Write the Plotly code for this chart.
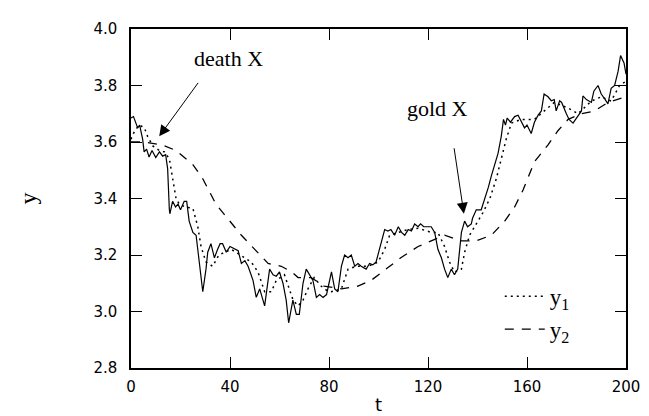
import plotly.graph_objects as go

# price (solid)
t_price = [0, 1, 2.7, 3.5, 4.7, 5.3, 6.3, 7.3, 8.5, 10, 11.5, 12.8, 14, 14.8, 15.5, 15.7, 16.8, 18, 19, 20,
           21.5, 22.5, 23.5, 25, 26.3, 29, 30.3, 31, 32.3, 33.7, 35, 36, 37, 38.5, 40, 42, 43.3, 44.6, 46, 47.3,
           48.6, 49.3, 50.6, 52, 54, 56, 57.4, 58.7, 60, 61.4, 62.7, 63.7, 65.4, 66.8, 68, 69.5, 70.8, 72, 73.5, 74.9,
           76.2, 77.6, 79, 80, 81, 82.3, 83.6, 85, 86.3, 87.7, 89, 90.4, 91.7, 93, 95, 96.4, 97.7, 99, 99.8, 101,
           102.5, 103.8, 105, 106.5, 108, 109.3, 110.6, 112, 113.3, 114.6, 116, 117, 118.3, 119.5, 121.3, 122.7, 124, 125.4, 126.7, 128,
           129.4, 130.7, 132, 133.5, 134.8, 136, 137.5, 138, 139.5, 141.5, 143, 144.4, 145.6, 147, 148.3, 149.6, 150.5, 151.3, 152, 153.3,
           155, 156.4, 157.7, 159, 160, 161.7, 163, 164.5, 165.8, 166.9, 168.5, 169.8, 171, 171.8, 173.2, 174, 175.9, 177, 178.6, 180.6,
           182, 182.6, 184, 186, 187, 188.7, 190, 191.6, 192.7, 194, 195.4, 196.8, 197.8, 199.2, 200]
y_price = [3.685, 3.69, 3.65, 3.66, 3.61, 3.565, 3.575, 3.547, 3.57, 3.545, 3.565, 3.55, 3.555, 3.506, 3.36, 3.346, 3.39, 3.37, 3.38, 3.36,
           3.39, 3.39, 3.32, 3.28, 3.27, 3.07, 3.15, 3.21, 3.24, 3.19, 3.22, 3.24, 3.24, 3.21, 3.23, 3.22, 3.215, 3.17, 3.18, 3.16,
           3.13, 3.11, 3.05, 3.08, 3.02, 3.15, 3.13, 3.125, 3.14, 3.10, 3.04, 2.96, 3.04, 2.99, 2.99, 3.10, 3.15, 3.13, 3.11, 3.05,
           3.06, 3.05, 3.06, 3.10, 3.14, 3.08, 3.07, 3.16, 3.20, 3.19, 3.20, 3.16, 3.17, 3.16, 3.15, 3.17, 3.165, 3.175, 3.20, 3.24,
           3.29, 3.285, 3.29, 3.27, 3.30, 3.28, 3.27, 3.29, 3.285, 3.31, 3.30, 3.31, 3.30, 3.30, 3.30, 3.28, 3.22, 3.19, 3.15, 3.12,
           3.15, 3.13, 3.15, 3.28, 3.32, 3.30, 3.31, 3.33, 3.36, 3.36, 3.40, 3.44, 3.48, 3.52, 3.56, 3.62, 3.68, 3.66, 3.685, 3.67,
           3.69, 3.695, 3.67, 3.65, 3.66, 3.63, 3.67, 3.695, 3.71, 3.77, 3.76, 3.746, 3.75, 3.71, 3.746, 3.74, 3.70, 3.68, 3.667, 3.69,
           3.71, 3.763, 3.75, 3.74, 3.78, 3.80, 3.77, 3.75, 3.735, 3.79, 3.80, 3.85, 3.906, 3.88, 3.84]

# y1 (short average, dotted)
t_y1 = [0, 1.5, 3.4, 5.4, 6.7, 8.8, 11.4, 13.5, 15.5, 16.8, 18.2, 19.5, 22, 25, 27, 28.3, 30.3, 33, 35.5, 40.5,
        46, 48.6, 51.3, 54, 56.7, 58.7, 62, 65.5, 67.5, 69.5, 71.5, 74, 76.8, 79, 81, 85, 87.7, 91, 95.8, 99.8,
        102.5, 104.5, 108, 112, 116, 121.3, 124, 126.7, 128.7, 130.7, 133.5, 134.8, 136.8, 139.5, 142.2, 145, 147.6, 149.6, 151.6, 153.7,
        157.7, 163, 167, 171, 176.6, 180.6, 186, 190, 194, 197.4, 200]
v_y1 = [3.61, 3.64, 3.66, 3.65, 3.62, 3.586, 3.57, 3.565, 3.54, 3.47, 3.40, 3.38, 3.37, 3.365, 3.30, 3.23, 3.175, 3.16, 3.20, 3.22,
        3.19, 3.175, 3.14, 3.07, 3.07, 3.11, 3.13, 3.04, 3.02, 3.04, 3.08, 3.12, 3.09, 3.075, 3.07, 3.08, 3.15, 3.16, 3.16, 3.175,
        3.22, 3.27, 3.28, 3.29, 3.295, 3.28, 3.28, 3.23, 3.175, 3.14, 3.15, 3.21, 3.27, 3.31, 3.35, 3.40, 3.47, 3.54, 3.61, 3.667,
        3.68, 3.68, 3.71, 3.74, 3.72, 3.70, 3.745, 3.76, 3.745, 3.80, 3.815]

# y2 (long average, dashed)
t_y2 = [0, 5, 12.5, 18.2, 25, 29, 34.3, 40, 44.6, 50, 55.4, 60.7, 65, 67.5, 72.8, 78, 85, 91.7, 97, 103,
        109, 116, 121.3, 126.7, 133.5, 139.5, 145.6, 151, 155, 158.4, 163, 168.5, 172.5, 176.6, 182, 187.3, 192.7, 200]
v_y2 = [3.60, 3.60, 3.59, 3.57, 3.52, 3.47, 3.38, 3.32, 3.27, 3.22, 3.17, 3.16, 3.14, 3.12, 3.12, 3.09, 3.08, 3.09, 3.11, 3.15,
        3.19, 3.23, 3.25, 3.27, 3.25, 3.25, 3.27, 3.32, 3.37, 3.43, 3.53, 3.59, 3.64, 3.68, 3.70, 3.71, 3.74, 3.76]

x_ticks = [0, 40, 80, 120, 160, 200]
y_ticks = [2.8, 3.0, 3.2, 3.4, 3.6, 3.8, 4.0]

fig = go.Figure()
fig.add_trace(go.Scatter(x=t_price, y=y_price, mode="lines", showlegend=False,
                         line=dict(color="black", width=1.2)))
fig.add_trace(go.Scatter(x=t_y1, y=v_y1, mode="lines", name="y<sub>1</sub>", legendgroup="a",
                         line=dict(color="black", width=1.5, dash="2px,4px")))
fig.add_trace(go.Scatter(x=t_y2, y=v_y2, mode="lines", name="y<sub>2</sub>", legendgroup="b",
                         line=dict(color="black", width=1.3, dash="9px,8px")))

axis_common = dict(showgrid=False, zeroline=False, showline=True, linecolor="black", linewidth=1.5,
                   mirror="ticks", ticks="inside", ticklen=11, tickwidth=1.2, tickcolor="black",
                   tickfont=dict(family="DejaVu Sans", size=15, color="black"))

fig.update_xaxes(range=[0, 200], tickvals=x_ticks, ticklabelstandoff=4,
                 title=dict(text="t", font=dict(family="DejaVu Sans", size=18, color="black"), standoff=4), **axis_common)
fig.update_yaxes(range=[2.8, 4.0], tickvals=y_ticks, tickformat=".1f", ticklabelstandoff=9,
                 title=dict(text="y", font=dict(family="Liberation Serif", size=24, color="black"), standoff=50), **axis_common)

fig.add_annotation(x=11.4, y=3.62, ax=40, ay=-55, text="", showarrow=True, arrowhead=2, arrowsize=2.2, arrowwidth=1, arrowcolor="black")
fig.add_annotation(x=134.5, y=3.346, ax=-10, ay=-67, text="", showarrow=True, arrowhead=2, arrowsize=2.2, arrowwidth=1, arrowcolor="black")
fig.add_annotation(x=39.5, y=3.895, text="death X", showarrow=False, font=dict(family="Liberation Serif", size=22, color="black"))
fig.add_annotation(x=124, y=3.72, text="gold X", showarrow=False, font=dict(family="Liberation Serif", size=22, color="black"))

fig.update_layout(width=649, height=416, plot_bgcolor="white", paper_bgcolor="white",
                  margin=dict(l=123, r=31, t=16, b=50),
                  legend=dict(x=0.745, y=0.275, xanchor="left", yanchor="top", bgcolor="rgba(0,0,0,0)",
                              font=dict(family="Liberation Serif", size=23, color="black"),
                              tracegroupgap=0, traceorder="grouped", itemwidth=40))
fig.write_html("out.html")
